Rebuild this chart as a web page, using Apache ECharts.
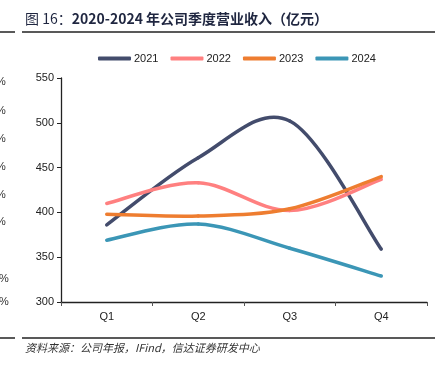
<!DOCTYPE html>
<html><head><meta charset="utf-8">
<script src="https://cdn.jsdelivr.net/npm/echarts@6/dist/echarts.min.js"></script>
<style>html,body{margin:0;padding:0;background:#fff}#c{width:443px;height:368px}</style>
</head><body><div id="c"></div>
<script>
const categories = ['Q1','Q2','Q3','Q4'];
const seriesNames = ['2021','2022','2023','2024'];
const v2021 = [386, 461, 502, 359];
const v2022 = [410, 433, 402, 437];
const v2023 = [398, 396, 404, 440];
const v2024 = [369, 387, 360, 329];
const yTicks = [300, 350, 400, 450, 500, 550];
const colors = ['#434C6C', '#FF8080', '#EE7D30', '#3B96B6'];
const values = [v2021, v2022, v2023, v2024];

const chart = echarts.init(document.getElementById('c'), null, {renderer:'canvas'});
const pctY = [83, 112, 140, 168, 196, 223, 280, 303];
const graphics = [
  {type:'text', left:25, top:12, style:{
    text:'{a|图 16：}{b|2020-2024 年公司季度营业收入（亿元）}',
    rich:{
      a:{font:'normal 14px "Noto Sans CJK SC", sans-serif', fill:'#1f2640'},
      b:{font:'bold 14px "Noto Sans CJK SC", sans-serif', fill:'#1f2640'}
    }}},
  {type:'line', shape:{x1:0,y1:32,x2:15,y2:32}, style:{stroke:'#222',lineWidth:1.5}},
  {type:'line', shape:{x1:22,y1:32,x2:435,y2:32}, style:{stroke:'#222',lineWidth:1.5}},
  {type:'line', shape:{x1:0,y1:338,x2:15,y2:338}, style:{stroke:'#222',lineWidth:1.5}},
  {type:'line', shape:{x1:22,y1:338,x2:435,y2:338}, style:{stroke:'#222',lineWidth:1.5}},
  {type:'text', left:25, top:342, style:{text:'资料来源：公司年报，IFind，信达证券研发中心', font:'italic 11px "Noto Sans CJK SC", sans-serif', fill:'#333'}}
];
pctY.forEach((y,i)=>{
  graphics.push({type:'text', x: i>=6 ? -1 : -4, y:y-7, style:{text:'%', font:'11px "Liberation Sans", Arial, sans-serif', fill:'#333'}});
});

// Spline segment (Catmull-Rom style, like spreadsheet smoothed lines) drawn via axis coordinates
function makeRenderItem(vals, color){
  return function(params, api){
    const i = params.dataIndex;
    if (i >= vals.length - 1) return null;
    const P = vals.map((v,k)=>api.coord([k, v]));
    const p0 = P[i], p1 = P[i+1];
    const prev = i > 0 ? P[i-1] : p0;
    const next = i + 2 < P.length ? P[i+2] : p1;
    const f0 = i > 0 ? 1/6 : 1/6;
    const f1 = i + 2 < P.length ? 1/6 : 1/6;
    const c1 = [p0[0] + (p1[0]-prev[0])*f0, p0[1] + (p1[1]-prev[1])*f0];
    const c2 = [p1[0] - (next[0]-p0[0])*f1, p1[1] - (next[1]-p0[1])*f1];
    return {
      type:'bezierCurve',
      shape:{x1:p0[0], y1:p0[1], x2:p1[0], y2:p1[1], cpx1:c1[0], cpy1:c1[1], cpx2:c2[0], cpy2:c2[1]},
      style:{stroke:color, lineWidth:3.5, fill:null, lineCap:'round'}
    };
  };
}

chart.setOption({
  backgroundColor:'#fff',
  animation:false,
  color: colors,
  graphic: graphics,
  legend:{
    top:48, left:93, itemWidth:33, itemHeight:4, itemGap:12, icon:'roundRect',
    textStyle:{fontSize:11, color:'#222', fontFamily:'"Liberation Sans", Arial, sans-serif', padding:[0,0,0,-2]},
    data: seriesNames
  },
  grid:{left:61, right:16, top:78, bottom:66, containLabel:false},
  xAxis:{
    type:'category', data:categories, boundaryGap:true,
    axisLine:{lineStyle:{color:'#222', width:1.3}},
    axisTick:{show:true, length:4, lineStyle:{color:'#555'}},
    axisLabel:{color:'#222', fontSize:11, margin:9, fontFamily:'"Liberation Sans", Arial, sans-serif'}
  },
  yAxis:{
    type:'value', min:yTicks[0], max:yTicks[yTicks.length-1], interval:50,
    axisLine:{show:true, lineStyle:{color:'#222', width:1.3}},
    axisTick:{show:true, length:4, lineStyle:{color:'#222'}},
    splitLine:{show:false},
    axisLabel:{color:'#222', fontSize:11, margin:7, fontFamily:'"Liberation Sans", Arial, sans-serif'}
  },
  series: seriesNames.map((n,i)=>({
    name:n, type:'custom', coordinateSystem:'cartesian2d',
    data: values[i].map((v,k)=>[k, v]),
    encode:{x:0, y:1},
    itemStyle:{color:colors[i]},
    renderItem: makeRenderItem(values[i], colors[i])
  }))
});
</script></body></html>
